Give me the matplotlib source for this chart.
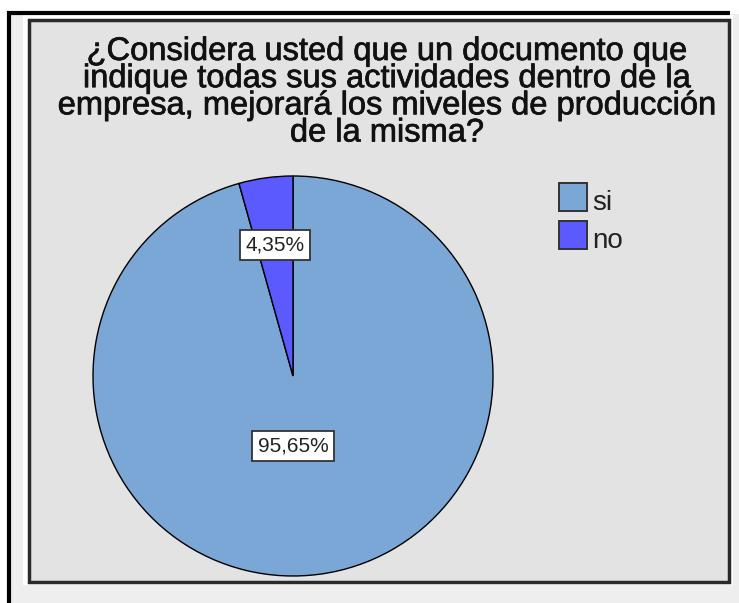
import numpy as np
import matplotlib.pyplot as plt
from matplotlib.patches import Rectangle
import matplotlib.patheffects as pe

plt.rcParams['font.family'] = ['Liberation Sans', 'DejaVu Sans']

# datos
categorias = ["si", "no"]
porcentajes = [95.65, 4.35]
etiquetas = ["95,65%", "4,35%"]
colores = ["#7ba7d6", "#5a5aff"]
titulo = ("¿Considera usted que un documento que\nindique todas sus actividades dentro de la\n"
          "empresa, mejorará los miveles de producción\nde la misma?")

W, H = 739, 603
fig = plt.figure(figsize=(W / 100, H / 100), dpi=100, facecolor="white")

# fondo / marcos en pixeles
bg = fig.add_axes([0, 0, 1, 1])
bg.set_xlim(0, W)
bg.set_ylim(H, 0)
bg.axis("off")
bg.add_patch(Rectangle((9, 14), W - 9, H - 14, facecolor="#eeeeee", edgecolor="none"))
bg.plot([7, 730], [12.5, 12.5], color="black", lw=3, solid_capstyle="butt")
bg.plot([8.5, 8.5], [11, H], color="black", lw=3, solid_capstyle="butt")
bg.add_patch(Rectangle((23, 15), 710, 570, facecolor="white", edgecolor="none"))
bg.add_patch(Rectangle((28.5, 19.5), 700, 562, facecolor="#e3e3e3", edgecolor="#2a2a2a", lw=2.5))

bg.text(387, 36, titulo, ha="center", va="top", fontsize=23.5,
        linespacing=0.84, color="#111111",
        path_effects=[pe.withStroke(linewidth=0.5, foreground="#111111")])

# pie
cx, cy, r = 293, 376, 200
ax = fig.add_axes([(cx - r) / W, (H - cy - r) / H, 2 * r / W, 2 * r / H])
wedges, _ = ax.pie(porcentajes, colors=colores, startangle=90, counterclock=False,
                   wedgeprops=dict(edgecolor="black", linewidth=1.0))
ax.set_xlim(-1, 1)
ax.set_ylim(-1, 1)
ax.set_aspect("auto")
ax.axis("off")

dist = [0.355, 0.66]
for w, lab, d in zip(wedges, etiquetas, dist):
    ang = np.deg2rad((w.theta1 + w.theta2) / 2)
    x, y = d * np.cos(ang), d * np.sin(ang)
    if lab == "95,65%":
        x = 0
    ax.text(x, y, lab, ha="center", va="center", fontsize=15, color="#222222",
            bbox=dict(boxstyle="square,pad=0.26", facecolor="white", edgecolor="#333333", lw=1.3))

# leyenda
for i, (cat, col) in enumerate(zip(categorias, colores)):
    y0 = 183 + i * 38
    bg.add_patch(Rectangle((558.5, y0), 28, 28, facecolor=col, edgecolor="#333333", lw=1.4))
    bg.text(592, y0 + 27, cat, ha="left", va="baseline", fontsize=20, color="#222222")

fig.savefig("out.png", dpi=100)
